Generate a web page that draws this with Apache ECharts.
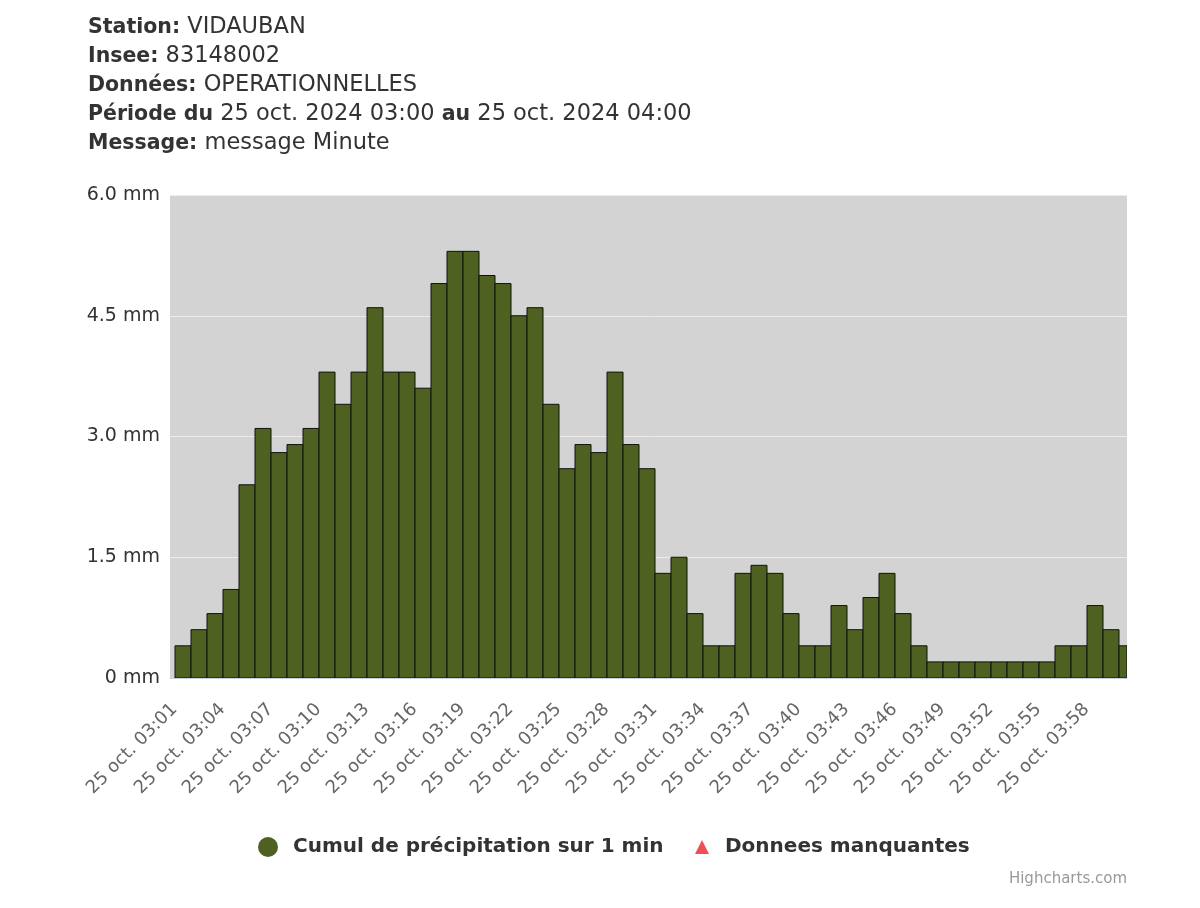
<!DOCTYPE html>
<html>
<head>
<meta charset="utf-8">
<script src="https://cdn.jsdelivr.net/npm/echarts@6/dist/echarts.min.js"></script>
<style>
html,body{margin:0;padding:0;background:#fff;}
#chart{width:1200px;height:908px;}
</style>
</head>
<body>
<div id="chart"></div>
<script>
// ---- data ----
const times = ['03:01','03:02','03:03','03:04','03:05','03:06','03:07','03:08','03:09','03:10',
  '03:11','03:12','03:13','03:14','03:15','03:16','03:17','03:18','03:19','03:20',
  '03:21','03:22','03:23','03:24','03:25','03:26','03:27','03:28','03:29','03:30',
  '03:31','03:32','03:33','03:34','03:35','03:36','03:37','03:38','03:39','03:40',
  '03:41','03:42','03:43','03:44','03:45','03:46','03:47','03:48','03:49','03:50',
  '03:51','03:52','03:53','03:54','03:55','03:56','03:57','03:58','03:59','04:00'];
const rain = [0.4,0.6,0.8,1.1,2.4,3.1,2.8,2.9,3.1,3.8,
  3.4,3.8,4.6,3.8,3.8,3.6,4.9,5.3,5.3,5.0,
  4.9,4.5,4.6,3.4,2.6,2.9,2.8,3.8,2.9,2.6,
  1.3,1.5,0.8,0.4,0.4,1.3,1.4,1.3,0.8,0.4,
  0.4,0.9,0.6,1.0,1.3,0.8,0.4,0.2,0.2,0.2,
  0.2,0.2,0.2,0.2,0.2,0.4,0.4,0.9,0.6,0.4];
const labelTimes = ['03:01','03:04','03:07','03:10','03:13','03:16','03:19','03:22','03:25','03:28',
  '03:31','03:34','03:37','03:40','03:43','03:46','03:49','03:52','03:55','03:58'];
const yTicks = [0, 1.5, 3.0, 4.5, 6.0];
const datePrefix = '25 oct.';
const seriesNames = ['Cumul de précipitation sur 1 min', 'Donnees manquantes'];
const header = [
  [['b','Station:'],['n',' VIDAUBAN']],
  [['b','Insee:'],['n',' 83148002']],
  [['b','Données:'],['n',' OPERATIONNELLES']],
  [['b','Période du'],['n',' 25 oct. 2024 03:00 '],['b','au'],['n',' 25 oct. 2024 04:00']],
  [['b','Message:'],['n',' message Minute']]
];

const FONT = '"DejaVu Sans", Verdana, sans-serif';
const headerText = header.map(line => line.map(p => '{' + p[0] + '|' + p[1] + '}').join('')).join('\n');
const BAR_COLOR = '#4f6120';
const MISSING_COLOR = '#e8262a';
const legendText = {fontFamily: FONT, fontSize: 20, fontWeight: 'bold', color: '#333', lineHeight: 24};

const chart = echarts.init(document.getElementById('chart'), null, {renderer: 'canvas'});
chart.setOption({
  animation: false,
  backgroundColor: '#ffffff',
  title: {
    text: headerText,
    left: 83,
    top: 8,
    textStyle: {
      rich: {
        b: {fontFamily: FONT, fontSize: 20.5, fontWeight: 'bold', color: '#333', lineHeight: 29},
        n: {fontFamily: FONT, fontSize: 22.5, fontWeight: 'normal', color: '#333', lineHeight: 29}
      }
    }
  },
  grid: {
    left: 170, right: 73, top: 195, bottom: 230,
    show: true, backgroundColor: '#d3d3d3', borderWidth: 0
  },
  xAxis: {
    type: 'value',
    min: 0.1875,
    max: 60,
    splitLine: {show: false},
    axisLine: {show: true, lineStyle: {color: '#c8d0e0', width: 1}},
    axisTick: {show: false},
    axisLabel: {
      customValues: labelTimes.map(t => times.indexOf(t) + 1),
      rotate: 45,
      margin: 20,
      padding: [0, 12, 0, 0],
      color: '#666',
      fontFamily: FONT,
      fontSize: 18,
      formatter: v => datePrefix + ' ' + times[Math.round(v) - 1]
    }
  },
  yAxis: {
    type: 'value',
    min: yTicks[0],
    max: yTicks[yTicks.length - 1],
    interval: yTicks[1] - yTicks[0],
    axisLine: {show: false},
    axisTick: {show: false},
    splitLine: {show: true, lineStyle: {color: '#ececec', width: 1}},
    axisLabel: {
      margin: 10,
      color: '#333',
      fontFamily: FONT,
      fontSize: 19,
      formatter: v => (v === 0 ? '0' : v.toFixed(1)) + ' mm'
    }
  },
  legend: [
    {
      left: 258,
      top: 835,
      padding: 0,
      itemWidth: 20,
      itemHeight: 20,
      textStyle: Object.assign({}, legendText, {padding: [0, 0, 0, 10]}),
      data: [{name: seriesNames[0], icon: 'circle', itemStyle: {color: BAR_COLOR, borderWidth: 0}}]
    },
    {
      left: 695,
      top: 835,
      padding: 0,
      itemWidth: 14,
      itemHeight: 14,
      textStyle: Object.assign({}, legendText, {padding: [0, 0, 0, 11]}),
      data: [{name: seriesNames[1], icon: 'triangle', itemStyle: {color: MISSING_COLOR}}]
    }
  ],
  series: [
    {
      name: seriesNames[0],
      type: 'custom',
      clip: true,
      data: rain.map((v, i) => [i + 1, v]),
      itemStyle: {color: BAR_COLOR},
      encode: {x: 0, y: 1},
      renderItem: function (params, api) {
        const x = api.value(0), y = api.value(1);
        const p0 = api.coord([x - 0.5, y]);
        const p1 = api.coord([x + 0.5, 0]);
        const rect = echarts.graphic.clipRectByRect(
          {x: p0[0], y: p0[1], width: p1[0] - p0[0], height: p1[1] - p0[1]},
          {x: params.coordSys.x, y: params.coordSys.y, width: params.coordSys.width, height: params.coordSys.height}
        );
        if (!rect) return;
        return {
          type: 'rect',
          shape: rect,
          style: {fill: BAR_COLOR, stroke: '#111', lineWidth: 1}
        };
      }
    },
    {
      name: seriesNames[1],
      type: 'scatter',
      symbol: 'triangle',
      itemStyle: {color: MISSING_COLOR},
      data: []
    }
  ],
  graphic: [
    {
      type: 'text',
      right: 73,
      top: 872,
      style: {text: 'Highcharts.com', fill: '#999', font: '15px ' + FONT}
    }
  ]
});
</script>
</body>
</html>
